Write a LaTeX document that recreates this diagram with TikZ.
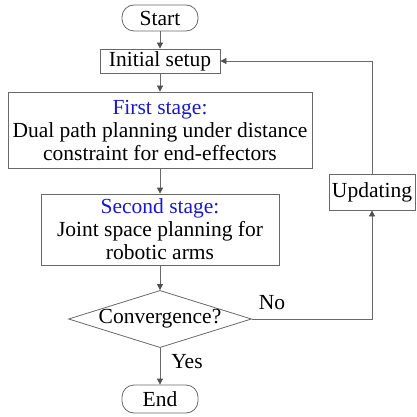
\documentclass[tikz,border=0pt]{standalone}
\usepackage{fontspec}
\setmainfont{Liberation Serif}
\usetikzlibrary{arrows.meta,shapes.geometric}
\definecolor{stageblue}{RGB}{25,25,200}
\definecolor{linegray}{RGB}{105,105,105}
\definecolor{tipgray}{RGB}{80,80,80}
\begin{document}
\begin{tikzpicture}[x=1pt,y=-1pt,
  every node/.style={font=\fontsize{21.5}{23}\selectfont, text=black},
  procbox/.style={draw=linegray, line width=0.8pt, align=center, inner sep=0pt},
  termbox/.style={draw=linegray, line width=0.8pt, rounded corners=12pt, inner sep=0pt, minimum width=76pt},
  decbox/.style={draw=linegray, line width=0.8pt, shape=diamond, aspect=3.2, inner sep=0pt, minimum width=181pt, minimum height=56pt},
  flow/.style={draw=linegray, line width=0.8pt, -{Triangle[length=6pt,width=6pt,color=tipgray]}},
  lbl/.style={inner sep=0pt}
]
\useasboundingbox (0,0) rectangle (416,417);
\node[termbox, minimum height=26pt] (start) at (160,18) {Start};
\node[procbox, minimum width=120pt, minimum height=24pt] (init) at (160,61) {Initial setup};
\node[procbox, minimum width=304pt, minimum height=76pt] (first) at (160,130)
  {\textcolor{stageblue}{First stage:}\\Dual path planning under distance\\constraint for end-effectors};
\node[procbox, minimum width=238pt, minimum height=71pt] (second) at (160,229.5)
  {\textcolor{stageblue}{Second stage:}\\Joint space planning for\\robotic arms};
\node[decbox] (conv) at (160,319) {Convergence?};
\node[termbox, minimum height=28pt] (end) at (160,399) {End};
\node[procbox, minimum width=86pt, minimum height=36pt] (upd) at (372,192) {Updating};
\coordinate (cb) at (372,319);
\coordinate (ct) at (372,61);

\draw[flow] (start) -- (init);
\draw[flow] (init) -- (first);
\draw[flow] (first) -- (second);
\draw[flow] (second) -- (conv);
\draw[flow] (conv) -- (end);
\draw[flow] (conv.east) -- (cb) -- (upd.south);
\draw[flow] (upd.north) -- (ct) -- (init.east);

\node[lbl] (yes) at (187,362) {Yes};
\node[lbl] (no) at (272,303) {No};
\end{tikzpicture}
\end{document}
